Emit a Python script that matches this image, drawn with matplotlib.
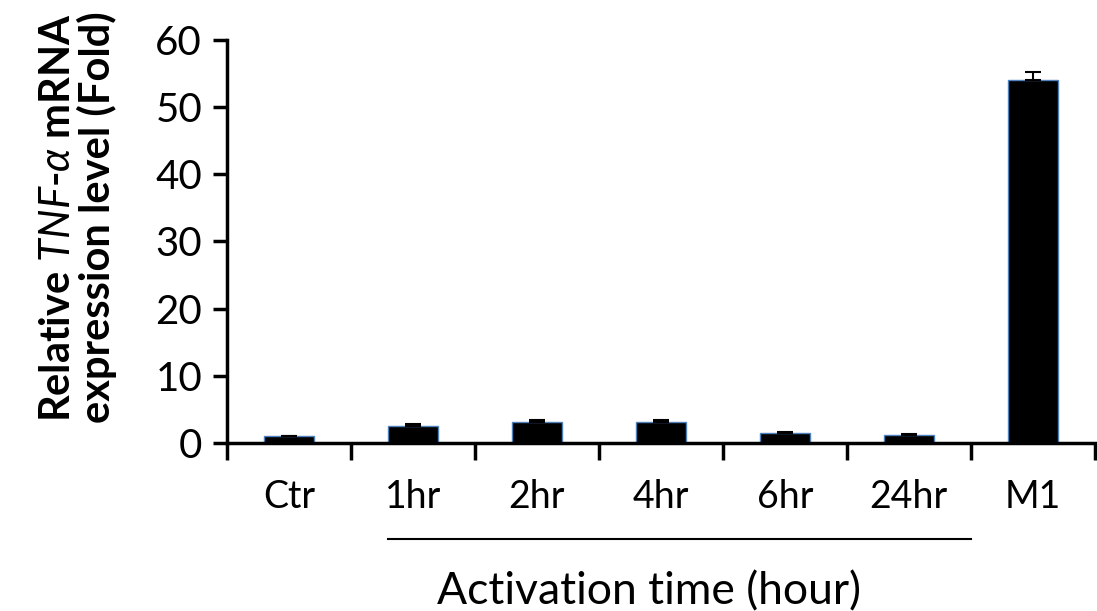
import matplotlib
matplotlib.use("Agg")
import matplotlib.pyplot as plt
import matplotlib.transforms as mtransforms

plt.rcParams["font.family"] = ["Lato", "DejaVu Sans"]
plt.rcParams["mathtext.fontset"] = "custom"
plt.rcParams["mathtext.it"] = "Lato:italic"
plt.rcParams["mathtext.rm"] = "Lato"

# ---------- data ----------
categories = ["Ctr", "1hr", "2hr", "4hr", "6hr", "24hr", "M1"]
fold = [1.0, 2.6, 3.1, 3.1, 1.5, 1.25, 54.0]
err = [0.1, 0.25, 0.25, 0.25, 0.1, 0.1, 1.2]
yticks = [0, 10, 20, 30, 40, 50, 60]

fig = plt.figure(figsize=(10.97, 6.11), dpi=100)
ax = fig.add_axes([0.207, 0.275, 0.791, 0.66])

x = list(range(len(categories)))
ax.bar(x, fold, width=0.4, color="black", edgecolor="#4f81bd", linewidth=1.0, zorder=2)
ax.errorbar(x, fold, yerr=[[0] * len(err), err], fmt="none", ecolor="black",
            elinewidth=1.5, capsize=6, capthick=1.5, zorder=3)

ax.set_xlim(-0.5, len(categories) - 0.5)
ax.set_ylim(0, 60)
ax.set_yticks(yticks)
ax.tick_params(axis="y", labelsize=29, length=10, width=2.5, direction="out", pad=8)

# labels at category centres, tick marks at boundaries
ax.set_xticks(x)
ax.set_xticklabels(categories)
ax.tick_params(axis="x", which="major", length=0, labelsize=27, pad=26)
ax.set_xticks([i - 0.5 for i in range(len(categories) + 1)], minor=True)
ax.tick_params(axis="x", which="minor", length=12, width=2.5, direction="out")

for side in ["top", "right"]:
    ax.spines[side].set_visible(False)
for side in ["left", "bottom"]:
    ax.spines[side].set_linewidth(2.5)

ax.set_ylabel("Relative $TNF$-$\\alpha$ mRNA\nexpression level (Fold)",
              fontsize=30, fontweight="bold", linespacing=1.0)
ax.yaxis.set_label_coords(-0.127, 0.56)

# bracket under activation time groups
trans = mtransforms.blended_transform_factory(ax.transData, ax.transAxes)
ax.plot([0.8, 5.5], [-0.238, -0.238], color="black", lw=1.5,
        transform=trans, clip_on=False)
ax.text(2.9, -0.40, "Activation time (hour)", transform=trans,
        ha="center", va="baseline", fontsize=32)

fig.savefig("out.png", dpi=100)
